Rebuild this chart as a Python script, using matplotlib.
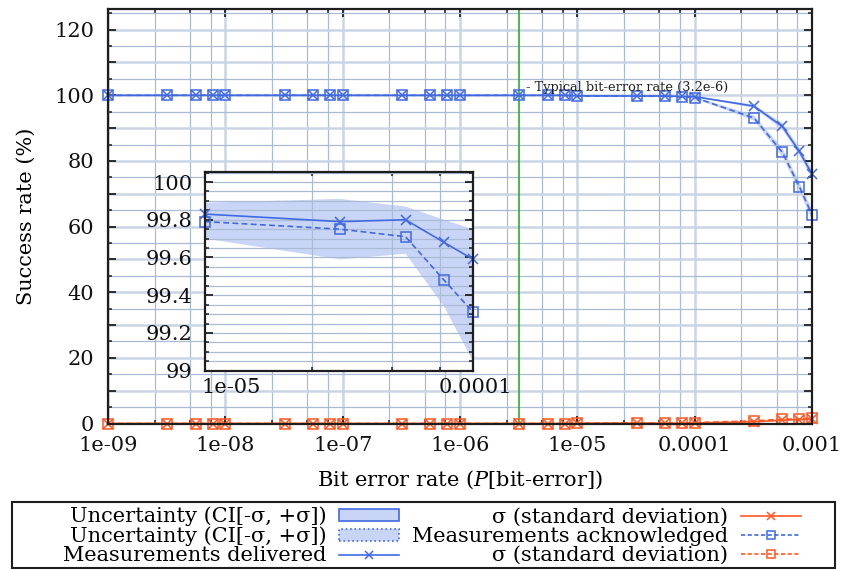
import numpy as np
import matplotlib
matplotlib.use("Agg")
import matplotlib.pyplot as plt
from matplotlib.ticker import (FixedLocator, FuncFormatter, MultipleLocator,
                               LogLocator, NullFormatter)
from matplotlib.patches import Rectangle, Patch
from matplotlib.lines import Line2D
from matplotlib.transforms import ScaledTranslation

plt.rcParams['font.family'] = ['DejaVu Serif']
plt.rcParams['mathtext.fontset'] = 'dejavuserif'

# ---------------- data ----------------
ber = np.array([1e-9, 3.2e-9, 5.6e-9, 7.8e-9,
                1e-8, 3.2e-8, 5.6e-8, 7.8e-8,
                1e-7, 3.2e-7, 5.6e-7, 7.8e-7,
                1e-6, 3.2e-6, 5.6e-6, 7.8e-6,
                1e-5, 3.2e-5, 5.6e-5, 7.8e-5,
                1e-4, 3.2e-4, 5.6e-4, 7.8e-4, 1e-3])
delivered = np.array([100, 100, 100, 100, 100, 100, 100, 100, 100, 100, 100, 100,
                      100, 100, 100, 100,
                      99.83, 99.79, 99.80, 99.68, 99.59, 96.7, 90.5, 82.9, 76.0])
acknowledged = np.array([100, 100, 100, 100, 100, 100, 100, 100, 100, 100, 100, 100,
                         100, 100, 100, 100,
                         99.79, 99.75, 99.71, 99.48, 99.31, 93.1, 82.6, 72.2, 63.6])
sigma_delivered = np.array([0, 0, 0, 0, 0, 0, 0, 0, 0, 0, 0, 0, 0, 0, 0, 0,
                            0.06, 0.12, 0.07, 0.12, 0.16, 0.5, 1.0, 1.2, 1.3])
sigma_acknowledged = np.array([0, 0, 0, 0, 0, 0, 0, 0, 0, 0, 0, 0, 0, 0, 0, 0,
                               0.09, 0.16, 0.09, 0.14, 0.26, 0.8, 1.3, 1.4, 1.6])
typical_ber = 3.2e-6
typical_label = "- Typical bit-error rate (3.2e-6)"

x_major = [1e-9, 1e-8, 1e-7, 1e-6, 1e-5, 1e-4, 1e-3]
x_major_labels = ['1e-09', '1e-08', '1e-07', '1e-06', '1e-05', '0.0001', '0.001']
inset_x_major = [1e-5, 1e-4]
inset_x_labels = ['1e-05', '0.0001']
inset_y_major = [99.0, 99.2, 99.4, 99.6, 99.8, 100.0]
inset_y_labels = ['99', '99.2', '99.4', '99.6', '99.8', '100']

legend_labels = ['Uncertainty (CI[-σ, +σ])', 'Uncertainty (CI[-σ, +σ])',
                 'Measurements delivered', 'σ (standard deviation)',
                 'Measurements acknowledged', 'σ (standard deviation)']

# ---------------- style ----------------
BLUE = '#4169e1'
ORANGE = '#ff5722'
BAND = '#c9d5f6'
GREEN = '#2aae2a'
FRAME = '#1e1e1e'
GRID_MAJ = '#c9d5e5'
GRID_MIN = '#a9bbd5'
FS = 15

fig = plt.figure(figsize=(8.45, 5.70), dpi=100)
fig.patch.set_facecolor('white')


def draw_series(a, mask=None):
    if mask is None:
        mask = np.ones_like(ber, dtype=bool)
    x = ber[mask]
    a.fill_between(x, acknowledged[mask] - sigma_acknowledged[mask],
                   acknowledged[mask] + sigma_acknowledged[mask],
                   facecolor=BAND, edgecolor='none', zorder=1)
    a.fill_between(x, delivered[mask] - sigma_delivered[mask],
                   delivered[mask] + sigma_delivered[mask],
                   facecolor=BAND, edgecolor='none', zorder=1)
    a.plot(x, delivered[mask], color=BLUE, lw=1.2, marker='x', ms=7, mew=1.1,
           zorder=3, clip_on=False)
    a.plot(x, acknowledged[mask], color=BLUE, lw=1.2, ls=(0, (3.5, 2)),
           marker='s', ms=6.5, mfc='none', mew=1.1, zorder=3, clip_on=False)
    a.plot(x, sigma_delivered[mask], color=ORANGE, lw=1.2, marker='x', ms=7,
           mew=1.1, zorder=4, clip_on=False)
    a.plot(x, sigma_acknowledged[mask], color=ORANGE, lw=1.2, ls=(0, (3.5, 2)),
           marker='s', ms=6.5, mfc='none', mew=1.1, zorder=4, clip_on=False)


def style_frame(a):
    for s in a.spines.values():
        s.set_color(FRAME)
        s.set_linewidth(1.6)
        s.set_zorder(5)


# ---------------- main axes ----------------
ax = fig.add_axes([108 / 845, 1 - 423.5 / 570, 704 / 845, 414.5 / 570])
ax.set_axisbelow('line')
ax.set_xscale('log')
ax.set_xlim(1e-9, 1e-3)
ax.set_ylim(0, 126.3)

ax.xaxis.set_major_locator(FixedLocator(x_major))
ax.set_xticklabels(x_major_labels)
ax.xaxis.set_minor_locator(LogLocator(base=10, subs=(2.5, 5.0, 7.5)))
ax.xaxis.set_minor_formatter(NullFormatter())
ax.yaxis.set_major_locator(MultipleLocator(10))
ax.yaxis.set_major_formatter(FuncFormatter(
    lambda v, p: f"{v:g}" if abs(v % 20) < 1e-6 else ""))
ax.yaxis.set_minor_locator(MultipleLocator(5))

ax.tick_params(which='both', direction='in', top=True, right=True,
               colors=FRAME, labelcolor='#111111', labelsize=FS)
ax.tick_params(which='major', length=5.5, width=1.3)
ax.tick_params(which='minor', length=3, width=1.1)
ax.tick_params(axis='y', which='both', pad=10)
ax.tick_params(axis='x', which='both', pad=9)

ax.grid(True, which='major', color=GRID_MAJ, lw=1.8)
ax.grid(True, which='minor', color=GRID_MIN, lw=0.9)

ax.axvline(typical_ber, color=GREEN, lw=1.2, zorder=2)
ax.annotate(typical_label, xy=(typical_ber, 100), xytext=(5, 1.0),
            textcoords='offset points', ha='left', va='bottom',
            fontsize=9.3, color='#222222', zorder=6)

draw_series(ax)
style_frame(ax)

ax.set_xlabel('Bit error rate ($P$[bit-error])', fontsize=FS, labelpad=10)
ax.set_ylabel('Success rate (%)', fontsize=FS, labelpad=13)

# ---------------- inset ----------------
ax2 = fig.add_axes([205 / 845, 1 - 370.7 / 570, 268 / 845, 198.7 / 570])
ax2.set_facecolor('white')
ax2.set_axisbelow('line')
ax2.set_xscale('log')
ax2.set_xlim(1e-5, 1e-4)
ax2.set_ylim(99, 100.053)
ax2.xaxis.set_major_locator(FixedLocator(inset_x_major))
ax2.set_xticklabels(inset_x_labels)
ax2.xaxis.set_minor_locator(LogLocator(base=10, subs=(2.5, 5.0, 7.5)))
ax2.xaxis.set_minor_formatter(NullFormatter())
ax2.yaxis.set_major_locator(FixedLocator(inset_y_major))
ax2.set_yticklabels(inset_y_labels)
ax2.yaxis.set_minor_locator(MultipleLocator(0.05))
ax2.tick_params(which='both', direction='in', top=True, right=True,
                colors=FRAME, labelcolor='#111111', labelsize=FS)
ax2.tick_params(which='major', length=5.5, width=1.3)
ax2.tick_params(which='minor', length=3, width=1.1)
ax2.tick_params(axis='y', which='both', pad=9)
ax2.tick_params(axis='x', which='both', pad=5)
ax2.grid(True, which='both', color=GRID_MIN, lw=0.9)
ax2.grid(True, which='major', axis='x', color=GRID_MAJ, lw=1.6)

inset_mask = (ber >= inset_x_major[0]) & (ber <= inset_x_major[-1])
draw_series(ax2, inset_mask)
style_frame(ax2)

for lab, dx in zip(ax2.get_xticklabels(), [0.26, 0.02]):
    lab.set_transform(lab.get_transform() +
                      ScaledTranslation(dx, 0, fig.dpi_scale_trans))

# ---------------- legend ----------------
handles = [
    Patch(facecolor=BAND, edgecolor=BLUE, lw=1.2),
    Patch(facecolor=BAND, edgecolor=BLUE, lw=1.2, linestyle=':'),
    Line2D([], [], color=BLUE, lw=1.2, marker='x', ms=6, mew=1.1),
    Line2D([], [], color=ORANGE, lw=1.2, marker='x', ms=6, mew=1.1),
    Line2D([], [], color=BLUE, lw=1.2, ls=(0, (2.5, 1.5)), marker='s', ms=6,
           mfc='none', mew=1.1),
    Line2D([], [], color=ORANGE, lw=1.2, ls=(0, (2.5, 1.5)), marker='s', ms=6,
           mfc='none', mew=1.1),
]
leg = fig.legend(handles=handles, labels=legend_labels, ncol=2, loc='center',
                 bbox_to_anchor=(432 / 845, 1 - 536 / 570), frameon=False,
                 markerfirst=False, handlelength=2.9, handletextpad=0.6,
                 columnspacing=0.6, labelspacing=0.0, fontsize=FS,
                 borderpad=0.0, handleheight=0.5)
fig.patches.append(Rectangle((12 / 845, 2 / 570), 823 / 845, 66 / 570,
                             transform=fig.transFigure, fill=False,
                             edgecolor=FRAME, lw=1.5))

fig.savefig('out.png', dpi=100)
